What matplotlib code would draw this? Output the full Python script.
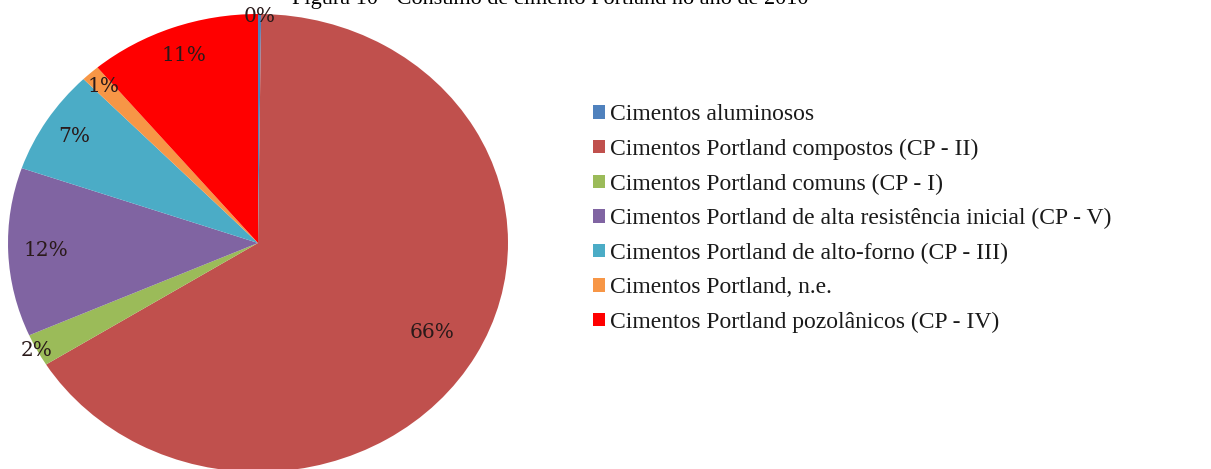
import numpy as np
import matplotlib
matplotlib.use("Agg")
import matplotlib.pyplot as plt
from matplotlib.patches import Patch

plt.rcParams['font.family'] = ['Liberation Serif', 'DejaVu Serif']

categories = [
    "Cimentos aluminosos",
    "Cimentos Portland compostos (CP - II)",
    "Cimentos Portland comuns (CP - I)",
    "Cimentos Portland de alta resistência inicial (CP - V)",
    "Cimentos Portland de alto-forno (CP - III)",
    "Cimentos Portland, n.e.",
    "Cimentos Portland pozolânicos (CP - IV)",
]
shares = [0.2, 65.9, 2.3, 11.9, 7.4, 1.2, 11.1]
colors = ["#4F81BD", "#C0504D", "#9BBB59", "#8064A2", "#4BACC6", "#F79646", "#FF0000"]
label_radius = [0.99, 0.80, 1.0, 0.85, 0.87, 0.92, 0.87]

W, H = 1211, 469
fig = plt.figure(figsize=(W / 100, H / 100), dpi=100)

ax = fig.add_axes([8 / W, -3 / H, 500 / W, 458 / H])
wedges, texts, autotexts = ax.pie(
    shares, colors=colors, startangle=90, counterclock=False,
    autopct=lambda p: f"{p:.0f}%", pctdistance=0.8,
    wedgeprops=dict(linewidth=0),
    textprops=dict(fontsize=14.5, color="#2a1a1a", family=['DejaVu Serif']),
)
ax.set_aspect('auto')
ax.set_xlim(-1, 1)
ax.set_ylim(-1, 1)

for w, t, r in zip(wedges, autotexts, label_radius):
    mid = np.deg2rad((w.theta1 + w.theta2) / 2)
    t.set_position((r * np.cos(mid), r * np.sin(mid)))
    t.set_ha('center')
    t.set_va('center')

handles = [Patch(facecolor=c, edgecolor='none') for c in colors]
fig.legend(handles, categories, loc='upper left', bbox_to_anchor=(584 / W, 1 - 95 / H),
           frameon=False, fontsize=17, handlelength=0.5, handleheight=0.5,
           handletextpad=0.2, labelspacing=0.57, borderaxespad=0,
           labelcolor="#1a1a1a")

fig.text(550 / W, 1 - 4 / H, "Figura 10 - Consumo de cimento Portland no ano de 2010",
         ha='center', va='baseline', fontsize=16)

fig.savefig("out.png", dpi=100, facecolor='white')
